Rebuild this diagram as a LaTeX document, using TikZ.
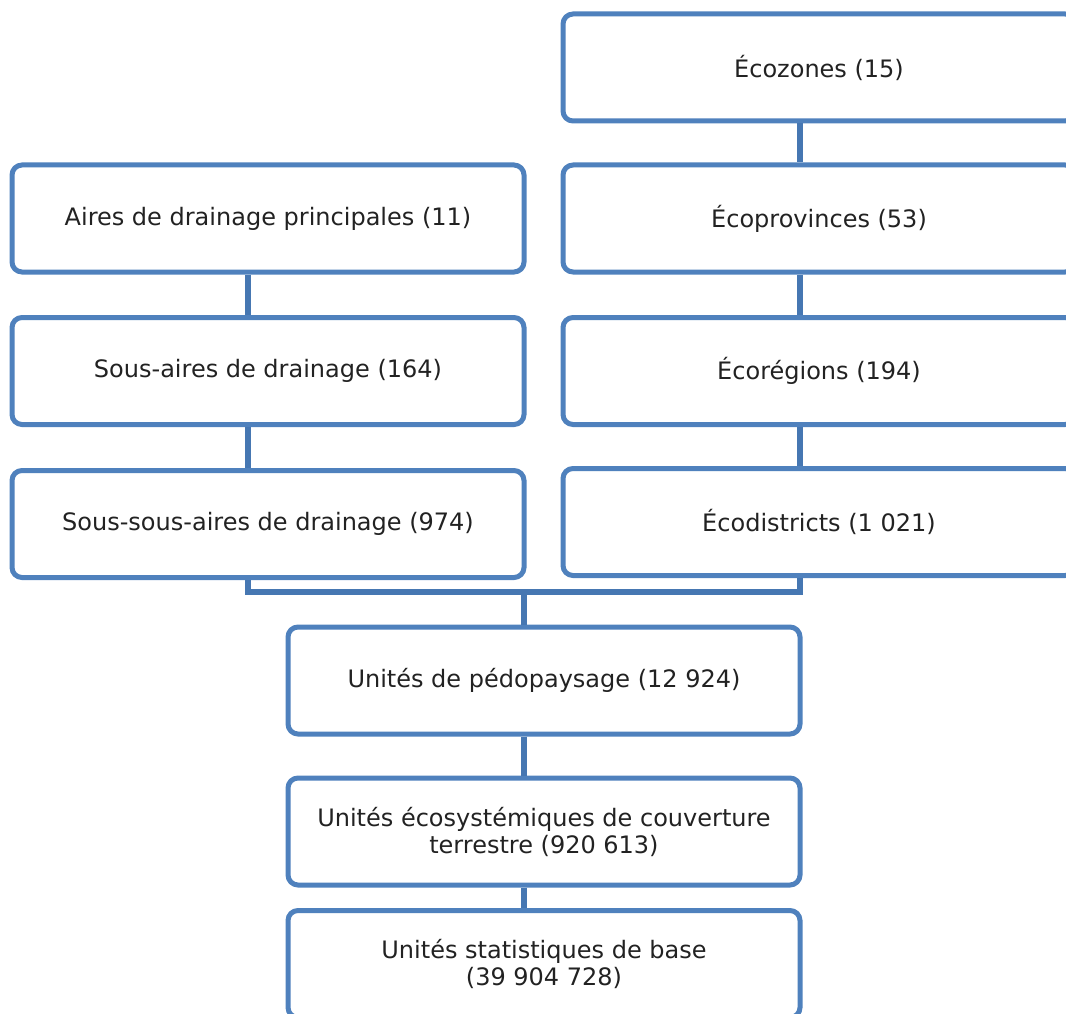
\documentclass[tikz,border=0pt]{standalone}
\usepackage{fontspec}
\setmainfont{DejaVu Sans}
\usepackage{tikz}
\definecolor{boxblue}{HTML}{4F81BD}
\definecolor{linkblue}{HTML}{4677B2}
\definecolor{textgray}{HTML}{222222}

\begin{document}
\begin{tikzpicture}[
    x=1pt,y=-1pt,
    unit/.style={draw=boxblue, line width=5pt, rounded corners=10pt, fill=white,
      minimum width=512pt, minimum height=107pt, inner sep=0pt,
      text=textgray, align=center, font=\fontsize{24}{27}\selectfont},
    link/.style={draw=linkblue, line width=5.5pt}
    ]
    \useasboundingbox (0, 0) rectangle (1066, 1014);
    \clip (0, 0) rectangle (1066, 1014);
    % columns of the connectors
    \coordinate (lcol) at (248, 0);
    \coordinate (rcol) at (800, 0);
    \coordinate (mcol) at (524, 0);
    \coordinate (bus) at (0, 592);
    % ecological framework
    \node[unit] (ecozones) at (819, 67.5) {Écozones (15)};
    \node[unit] (ecoprov) at (819, 218.5) {Écoprovinces (53)};
    \node[unit] (ecoreg) at (819, 371) {Écorégions (194)};
    \node[unit] (ecodist) at (819, 522) {Écodistricts (1 021)};
    % drainage areas
    \node[unit] (aires) at (268, 218.5) {Aires de drainage principales (11)};
    \node[unit] (sousaires) at (268, 371) {Sous-aires de drainage (164)};
    \node[unit] (soussous) at (268, 524) {Sous-sous-aires de drainage (974)};
    % finer units
    \node[unit] (pedo) at (544, 680.5) {Unités de pédopaysage (12 924)};
    \node[unit] (ecosys) at (544, 831.5) {Unités écosystémiques de couverture\\terrestre (920 613)};
    \node[unit] (usb) at (544, 964) {Unités statistiques de base\\(39 904 728)};
    % connectors
    \draw[link] (ecozones.south -| rcol) -- (ecoprov.north -| rcol);
    \draw[link] (ecoprov.south -| rcol) -- (ecoreg.north -| rcol);
    \draw[link] (ecoreg.south -| rcol) -- (ecodist.north -| rcol);
    \draw[link] (aires.south -| lcol) -- (sousaires.north -| lcol);
    \draw[link] (sousaires.south -| lcol) -- (soussous.north -| lcol);
    \draw[link] (soussous.south -| lcol) -- (bus -| lcol) -- (bus -| rcol) -- (ecodist.south -| rcol);
    \draw[link] (bus -| mcol) -- (pedo.north -| mcol);
    \draw[link] (pedo.south -| mcol) -- (ecosys.north -| mcol);
    \draw[link] (ecosys.south -| mcol) -- (usb.north -| mcol);
  \end{tikzpicture}
\end{document}
